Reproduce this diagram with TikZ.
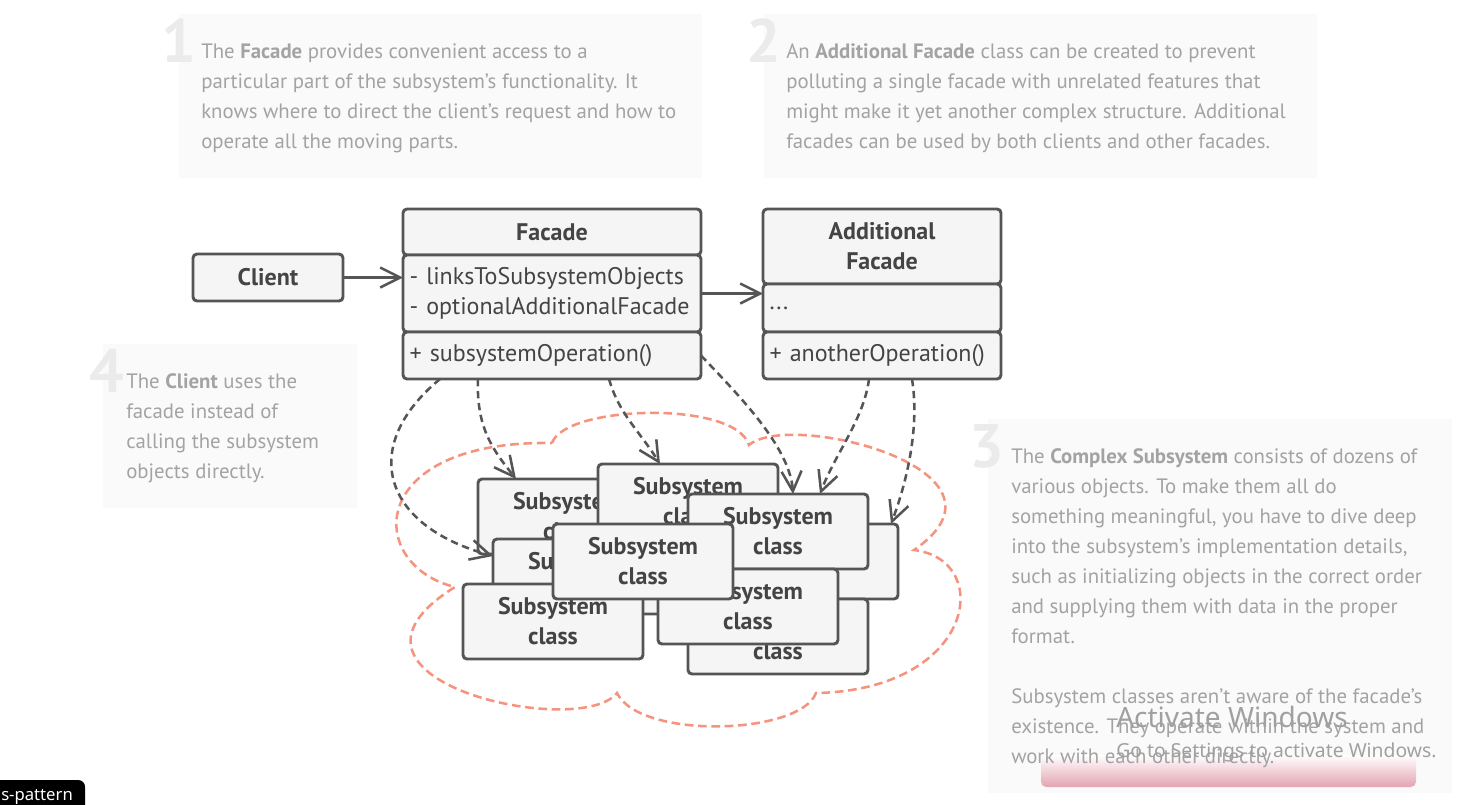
\documentclass[tikz,border=0pt]{standalone}
\usepackage{fontspec}
\setmainfont{PT Sans}
\newfontfamily\winfont{Noto Sans}
\usepackage{tikz}
\usetikzlibrary{shapes,arrows.meta,positioning,calc}
\usepackage{xcolor}

\definecolor{linegray}{HTML}{555555}
\definecolor{textdark}{HTML}{444444}
\definecolor{boxfill}{HTML}{F5F5F5}
\definecolor{textgray}{HTML}{A3A3A3}
\definecolor{notefill}{HTML}{FAFAFA}
\definecolor{numgray}{HTML}{EBEBEB}
\definecolor{cloudred}{HTML}{F6937F}
\definecolor{btnpink}{HTML}{E3A3B1}
\definecolor{wingray}{HTML}{A0A0A0}

\begin{document}
\begin{tikzpicture}[x=0.75pt, y=-0.75pt, node distance=0pt, auto]

    \tikzstyle{block} = [
        rectangle,
        draw=linegray,
        fill=boxfill,
        line width=2.2pt,
        rounded corners=3pt,
        outer sep=0pt,
        inner sep=0pt,
        text=textdark,
        align=center,
        font=\fontsize{18}{22.5}\selectfont\bfseries,
    ]
    \tikzstyle{member} = [
        block,
        align=left,
        inner xsep=5pt,
        font=\fontsize{18}{22.5}\selectfont,
    ]
    \tikzstyle{subclass} = [
        block,
        minimum width=135pt,
        minimum height=56.25pt,
        anchor=north west,
    ]
    \tikzstyle{note} = [
        rectangle,
        fill=notefill,
        anchor=north west,
        inner sep=0pt,
    ]
    \tikzstyle{notetext} = [
        text=textgray,
        align=left,
        inner sep=0pt,
        font=\fontsize{15.6}{22.5}\selectfont,
    ]
    \tikzstyle{numeral} = [
        text=numgray,
        anchor=base east,
        inner sep=0pt,
        font=\fontsize{46}{46}\selectfont\bfseries,
    ]
    \tikzstyle{line} = [
        draw=linegray,
        line width=1.9pt,
        -{Straight Barb[length=15pt, width=15pt]},
    ]
    \tikzstyle{call} = [
        line,
        dash pattern=on 5.5pt off 3.5pt,
    ]
    \tikzstyle{cloudline} = [
        draw=cloudred,
        line width=1.9pt,
        dash pattern=on 6.5pt off 3.5pt,
    ]

    \useasboundingbox (0,0) rectangle (1483,804);
    \fill[white] (0,0) rectangle (1483,804);

    % notes
    \node[note, minimum width=392.25pt, minimum height=123pt] (note1) at (179,14) {};
    \node[note, minimum width=414.75pt, minimum height=123pt] (note2) at (764,14) {};
    \node[note, minimum width=190.5pt, minimum height=123pt]  (note4) at (103,344) {};
    \node[note, minimum width=348pt, minimum height=280.5pt]  (note3) at (988,419) {};

    \node[numeral] (num1) at (197,62)  {1};
    \node[numeral] (num2) at (782,62)  {2};
    \node[numeral] (num4) at (125,392) {4};
    \node[numeral] (num3) at (1005,467) {3};

    \shade[top color=white, bottom color=btnpink, rounded corners=4pt]
        (1041,755) rectangle (1416,787);

    \node[notetext, below right=22.25pt and 16.5pt of note1.north west] (text1) {
        The \textbf{Facade} provides convenient access to a\\
        particular part of the subsystem’s functionality. It\\
        knows where to direct the client’s request and how to\\
        operate all the moving parts.
    };
    \node[notetext, below right=22.25pt and 16.5pt of note2.north west] (text2) {
        An \textbf{Additional Facade} class can be created to prevent\\
        polluting a single facade with unrelated features that\\
        might make it yet another complex structure. Additional\\
        facades can be used by both clients and other facades.
    };
    \node[notetext, below right=22.25pt and 17.25pt of note4.north west] (text4) {
        The \textbf{Client} uses the\\
        facade instead of\\
        calling the subsystem\\
        objects directly.
    };
    \node[notetext, below right=22.25pt and 17.25pt of note3.north west] (text3) {
        The \textbf{Complex Subsystem} consists of dozens of\\
        various objects. To make them all do\\
        something meaningful, you have to dive deep\\
        into the subsystem’s implementation details,\\
        such as initializing objects in the correct order\\
        and supplying them with data in the proper\\
        format.\\[22.5pt]
        Subsystem classes aren’t aware of the facade’s\\
        existence. They operate within the system and\\
        work with each other directly.
    };

    % subsystem cloud
    \draw[cloudline] (552,443)
        .. controls (565,405) and (735,400) .. (749,445)
        .. controls (790,410) and (1030,470) .. (914,550)
        .. controls (995,560) and (975,690) .. (816,693)
        .. controls (800,735) and (640,740) .. (617,693)
        .. controls (580,740) and (305,680) .. (455,587)
        .. controls (365,565) and (365,440) .. (552,443);

    \node[subclass] (subA) at (478,479) {Subsystem\\class};
    \node[subclass] (subB) at (598,464) {Subsystem\\class};
    \node[subclass] (subC) at (493,539) {Subsystem\\class};
    \node[subclass] (subD) at (463,584) {Subsystem\\class};
    \node[subclass] (subG) at (718,524) {Subsystem\\class};
    \node[subclass] (subF) at (688,494) {Subsystem\\class};
    \node[subclass] (subI) at (688,599) {Subsystem\\class};
    \node[subclass] (subH) at (658,569) {Subsystem\\class};
    \node[subclass] (subE) at (553,524) {Subsystem\\class};

    % classes
    \node [block, minimum width=112.5pt, minimum height=35.25pt, anchor=north west]
        (client) at (193,254) {Client};

    \node [block, minimum width=223.5pt, minimum height=34.5pt, anchor=north west]
        (fac) at (403,209) {Facade};
    \node [member, text width=213.5pt, minimum height=57.75pt, below=of fac]
        (facattr) {- linksToSubsystemObjects\\- optionalAdditionalFacade};
    \node [member, text width=213.5pt, minimum height=35.25pt, below=of facattr]
        (facops) {+ subsystemOperation()};

    \node [block, minimum width=178.5pt, minimum height=56.25pt, anchor=north west]
        (add) at (763,209) {Additional\\Facade};
    \node [member, text width=168.5pt, minimum height=36pt, below=of add]
        (addattr) {...};
    \node [member, text width=168.5pt, minimum height=35.25pt, below=of addattr]
        (addops) {+ anotherOperation()};

    \path [line] (client.east) -- (client.east -| facattr.west);
    \path [line] (facattr.east) -- (facattr.east -| addattr.west);

    \path [call] ($(facops.south west)+(37,0)$)
        .. controls +(-80,66) and +(-113,-31) .. ($(subC.north west)+(0,17)$);
    \path [call] ($(facops.south west)+(75,0)$)
        .. controls +(-2,50) and +(-22,-28) .. ($(subA.north west)+(38,0)$);
    \path [call] ($(facops.south west)+(206,0)$)
        .. controls +(10,35) and +(-22,-35) .. ($(subB.north west)+(62,0)$);
    \path [call] (facops.east)
        .. controls +(34,36) and +(-3,-48) .. ($(subF.north west)+(105,0)$);
    \path [call] ($(addops.south west)+(106,0)$)
        .. controls +(-5,40) and +(15,-40) .. ($(subF.north west)+(132,0)$);
    \path [call] ($(addops.south west)+(149,0)$)
        .. controls +(8,50) and +(15,-40) .. ($(subG.north west)+(173,0)$);

    % screen overlay
    \node[anchor=base west, inner sep=0pt, text=wingray, font=\winfont\fontsize{21}{21}\selectfont]
        (winmark) at (1116,727) {Activate Windows};
    \node[anchor=base west, inner sep=0pt, text=wingray, font=\winfont\fontsize{14.5}{14.5}\selectfont]
        (winhint) at (1116,757) {Go to Settings to activate Windows.};

    \fill[black, rounded corners=5pt] (-10,780) rectangle (85,814);
    \node[anchor=base west, inner sep=0pt, text=white, font=\winfont\fontsize{12.5}{12.5}\selectfont]
        (tag) at (1,800) {s-pattern};

\end{tikzpicture}
\end{document}
